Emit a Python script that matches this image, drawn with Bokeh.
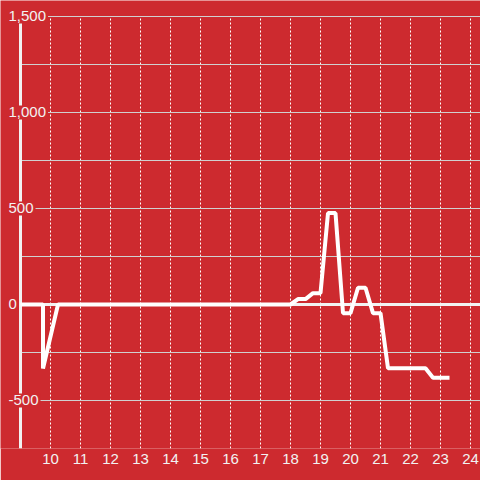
from bokeh.plotting import figure
from bokeh.models import ColumnDataSource, FixedTicker
from bokeh.core.properties import value
from bokeh.embed import file_html
from bokeh.resources import INLINE

# data
hours = [9.0, 9.75, 9.75, 10.25, 18.0, 18.25, 18.5, 18.75, 19.0, 19.25, 19.5, 19.75,
         20.0, 20.25, 20.5, 20.75, 21.0, 21.25, 22.5, 22.75, 23.3]
values = [0, 0, -333, 0, 0, 28, 28, 59, 59, 476, 476, -45, -45, 87, 87, -45, -45,
          -332, -332, -382, -382]
x_ticks = list(range(10, 25))
y_major = [-500, 0, 500, 1000, 1500]
y_labels = ["-500", "0", "500", "1,000", "1,500"]
y_grid = [-750, -500, -250, 0, 250, 500, 750, 1000, 1250, 1500]

X0, X1 = 9, 24.3333
Y0, Y1 = -750, 1500
BG = "#cd2a2f"
FG = "#f2f2f2"

p = figure(width=480, height=480, output_backend="svg", toolbar_location=None,
           x_range=(8.3333, X1), y_range=(Y0, 1583.33),
           min_border_left=0, min_border_right=0, min_border_top=0, min_border_bottom=32)
p.background_fill_color = BG
p.border_fill_color = BG
p.outline_line_color = None

p.yaxis.visible = False
p.xaxis.ticker = FixedTicker(ticks=x_ticks)
p.xaxis.axis_line_color = None
p.xaxis.major_tick_line_color = None
p.xaxis.minor_tick_line_color = None
p.xaxis.major_tick_out = 0
p.xaxis.major_label_standoff = 5
p.xaxis.major_label_text_color = FG
p.xaxis.major_label_text_font = "Liberation Sans"
p.xaxis.major_label_text_font_size = "15px"

p.xgrid.ticker = FixedTicker(ticks=x_ticks)
p.xgrid.grid_line_color = "#ffffff"
p.xgrid.grid_line_dash = "2 2"
p.xgrid.grid_line_width = 1
p.xgrid.cross_bounds = (Y0, Y1)
p.ygrid.ticker = FixedTicker(ticks=y_grid)
p.ygrid.grid_line_color = "#d0d0d0"
p.ygrid.grid_line_width = 1
p.ygrid.cross_bounds = (X0, X1)

# axis line and zero line
p.segment(x0=[X0, X0], y0=[Y0, 0], x1=[X0, X1], y1=[Y1, 0], line_color=FG, line_width=3)

p.line(hours, values, line_color="#ffffff", line_width=4)

src = ColumnDataSource(dict(x=[X0] * len(y_major), y=y_major, t=y_labels))
p.text(x="x", y="y", text="t", source=src, x_offset=-14,
       text_align="left", text_baseline="middle",
       text_color=FG, text_font=value("Liberation Sans"), text_font_size="15px",
       background_fill_color=BG, background_fill_alpha=1.0, padding=2)

open("out.html", "w").write(file_html(p, INLINE))
